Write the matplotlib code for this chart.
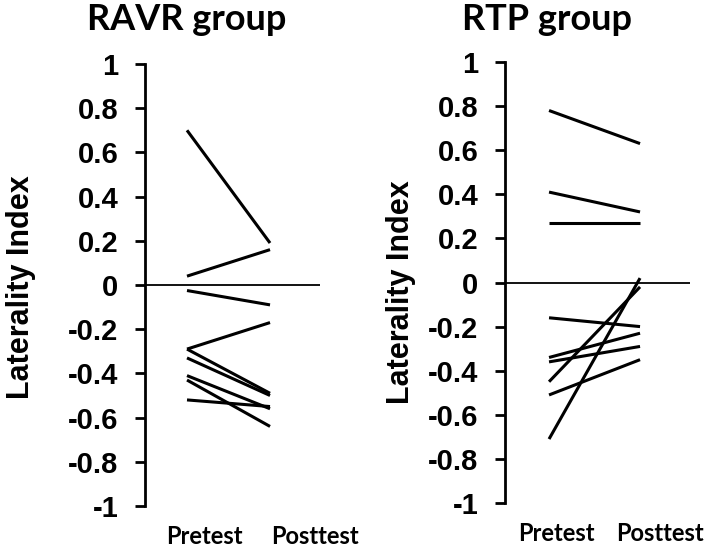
import matplotlib
matplotlib.use("Agg")
import matplotlib.pyplot as plt
from matplotlib.transforms import ScaledTranslation

# ---- data ----
timepoints = ["Pretest", "Posttest"]
ravr_pre = [0.70, 0.04, -0.025, -0.29, -0.29, -0.33, -0.41, -0.43, -0.52]
ravr_post = [0.19, 0.16, -0.09, -0.17, -0.49, -0.50, -0.56, -0.64, -0.55]
rtp_pre = [0.78, 0.41, 0.27, -0.16, -0.34, -0.36, -0.45, -0.51, -0.71]
rtp_post = [0.63, 0.32, 0.27, -0.20, -0.23, -0.29, -0.02, -0.35, 0.02]
yticks = [-1, -0.8, -0.6, -0.4, -0.2, 0, 0.2, 0.4, 0.6, 0.8, 1]
ytick_labels = ["-1", "-0.8", "-0.6", "-0.4", "-0.2", "0", "0.2", "0.4", "0.6", "0.8", "1"]
titles = ["RAVR group", "RTP group"]
ylabel = "Laterality Index"

W, H = 709, 547
fig = plt.figure(figsize=(W / 100, H / 100), dpi=100)

def px_axes(l, r, t, b):
    return fig.add_axes([l / W, (H - b) / H, (r - l) / W, (b - t) / H])

panels = [
    dict(box=(145, 320, 64, 506), xlim=(0.494, 2.602), pre=ravr_pre, post=ravr_post,
         lab_off=(17, 45), ylab=(-0.62, 0.495), title_x=187),
    dict(box=(505, 690, 62, 503), xlim=(0.516, 2.549), pre=rtp_pre, post=rtp_post,
         lab_off=(7, 20), ylab=(-0.48, 0.478), title_x=547),
]

for p, title in zip(panels, titles):
    ax = px_axes(*p["box"])
    for a, b in zip(p["pre"], p["post"]):
        ax.plot([1, 2], [a, b], color="black", lw=2.2, solid_capstyle="butt")
    ax.axhline(0, color="black", lw=1.3)
    ax.set_xlim(*p["xlim"])
    ax.set_ylim(-1, 1)
    for s in ["top", "right", "bottom"]:
        ax.spines[s].set_visible(False)
    ax.spines["left"].set_linewidth(2.0)
    ax.spines["left"].set_capstyle("projecting")
    ax.set_yticks(yticks)
    ax.set_yticklabels(ytick_labels, fontfamily="Liberation Sans", fontweight="bold", fontsize=21)
    ax.tick_params(axis="y", length=7, width=2.0, pad=12, direction="out")
    ax.set_xticks([1, 2])
    ax.set_xticklabels(timepoints, fontfamily="Lato", fontweight="bold", fontsize=17)
    ax.tick_params(axis="x", length=0, pad=14)
    for lab, dx in zip(ax.get_xticklabels(), p["lab_off"]):
        lab.set_transform(lab.get_transform() + ScaledTranslation(dx / 100, 0, fig.dpi_scale_trans))
    ax.set_ylabel(ylabel, fontfamily="Liberation Sans", fontweight="bold", fontsize=22)
    ax.yaxis.set_label_coords(*p["ylab"])
    ax.patch.set_visible(False)
    fig.text(p["title_x"] / W, (H - 30) / H, title, ha="center", va="baseline",
             fontfamily="Lato", fontweight="bold", fontsize=26)

fig.savefig("out.png", dpi=100, facecolor="white")
